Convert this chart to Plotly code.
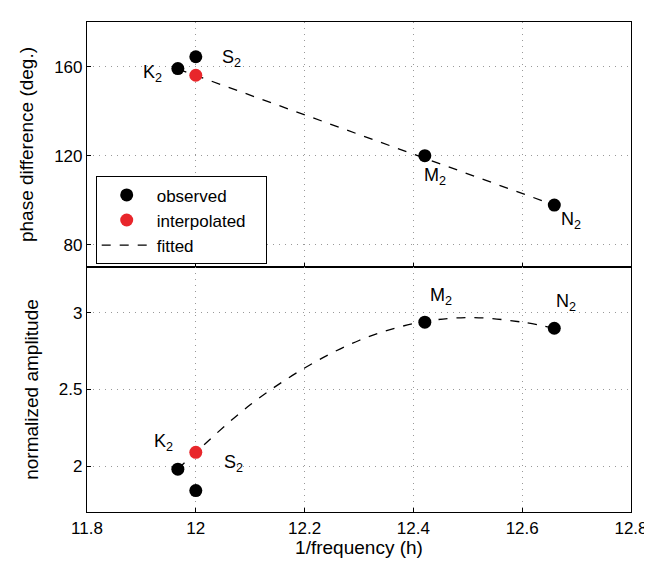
import plotly.graph_objects as go
from plotly.subplots import make_subplots

# observed constituents: K2, S2, M2, N2
names = ["K", "S", "M", "N"]
period = [11.967, 12.0, 12.421, 12.659]
phase = [159.1, 164.4, 120.0, 97.8]
amp = [1.98, 1.84, 2.94, 2.90]

# interpolated S2
interp_x = [12.0]
interp_phase = [156.1]
interp_amp = [2.09]

# fitted curves
fit_phase_x = [11.967, 12.659]
fit_phase_y = [158.9, 97.8]
fit_amp_x = [11.967, 12.0, 12.1, 12.2, 12.3, 12.4, 12.5, 12.6, 12.659]
fit_amp_y = [1.98, 2.09, 2.40, 2.64, 2.82, 2.93, 2.97, 2.94, 2.90]

# label positions
phase_lbl_x = [11.92, 12.065, 12.44, 12.69]
phase_lbl_y = [156.7, 163.5, 110.7, 91.0]
amp_lbl_x = [11.94, 12.07, 12.45, 12.68]
amp_lbl_y = [2.155, 2.02, 3.11, 3.07]

font = "Liberation Sans, Arial, sans-serif"
fig = make_subplots(rows=2, cols=1, shared_xaxes=True, vertical_spacing=0)

fig.add_trace(go.Scatter(x=fit_phase_x, y=fit_phase_y, mode="lines", name="fitted",
                         line=dict(color="black", dash="dash", width=1.3), showlegend=False), 1, 1)
fig.add_trace(go.Scatter(x=period, y=phase, mode="markers", name="observed   ",
                         marker=dict(color="black", size=13)), 1, 1)
fig.add_trace(go.Scatter(x=interp_x, y=interp_phase, mode="markers", name="interpolated   ",
                         marker=dict(color="#e8262b", size=13)), 1, 1)
fig.add_trace(go.Scatter(x=[None], y=[None], mode="lines", name="fitted",
                         line=dict(color="black", dash="dash", width=1.3)), 1, 1)

fig.add_trace(go.Scatter(x=fit_amp_x, y=fit_amp_y, mode="lines", line_shape="spline",
                         line=dict(color="black", dash="dash", width=1.3), showlegend=False), 2, 1)
fig.add_trace(go.Scatter(x=period, y=amp, mode="markers",
                         marker=dict(color="black", size=13), showlegend=False), 2, 1)
fig.add_trace(go.Scatter(x=interp_x, y=interp_amp, mode="markers",
                         marker=dict(color="#e8262b", size=13), showlegend=False), 2, 1)

for i, n in enumerate(names):
    fig.add_annotation(x=phase_lbl_x[i], y=phase_lbl_y[i], text=n + "<sub>2</sub>",
                       showarrow=False, row=1, col=1, font=dict(size=18, color="black"))
    fig.add_annotation(x=amp_lbl_x[i], y=amp_lbl_y[i], text=n + "<sub>2</sub>",
                       showarrow=False, row=2, col=1, font=dict(size=18, color="black"))

axis = dict(showline=True, linecolor="black", linewidth=1.2, mirror=True,
            showgrid=True, gridcolor="#999", griddash="1px,5px", gridwidth=1,
            ticks="inside", ticklen=4, tickcolor="black", zeroline=False,
            tickfont=dict(size=17))
fig.update_xaxes(**axis, range=[11.8, 12.8], dtick=0.2)
fig.update_xaxes(title_text="1/frequency (h)", title_standoff=4, row=2, col=1, tickformat="~g")
fig.update_yaxes(**axis)
fig.update_yaxes(range=[70, 180], tickvals=[80, 120, 160], title_text="phase difference (deg.)", row=1, col=1)
fig.update_yaxes(range=[1.7, 3.3], tickvals=[2, 2.5, 3], title_text="normalized amplitude", row=2, col=1)

fig.update_layout(
    width=652, height=562, margin=dict(l=79, r=21, t=14, b=58),
    plot_bgcolor="white", paper_bgcolor="white",
    font=dict(family=font, size=16, color="black"),
    legend=dict(x=0.016, y=0.685, xanchor="left", yanchor="top",
                bordercolor="black", borderwidth=1, bgcolor="white",
                font=dict(size=17), tracegroupgap=0, itemwidth=50),
)
fig.write_html("out.html")
